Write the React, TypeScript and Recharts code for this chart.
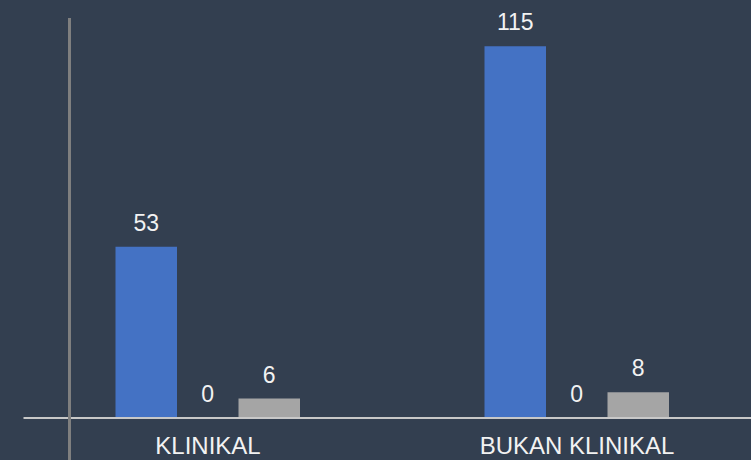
import React from 'react';
import { BarChart, Bar, XAxis, YAxis, LabelList } from 'recharts';

const categories = ['KLINIKAL', 'BUKAN KLINIKAL'];
const series1 = [53, 115];
const series2 = [0, 0];
const series3 = [6, 8];

const data = categories.map((name, i) => ({
  name,
  s1: series1[i],
  s2: series2[i],
  s3: series3[i],
}));

const labelStyle = { fill: '#F2F2F2', fontSize: 23, fontFamily: '"Liberation Sans", Arial, sans-serif' };
const asText = (v: any) => String(v);

const App: React.FC = () => {
  return (
    <div
      style={{
        position: 'fixed',
        left: 0,
        top: 0,
        width: 751,
        height: 460,
        overflow: 'hidden',
        background: '#333F50',
      }}
    >
      <BarChart
        width={762}
        height={460}
        data={data}
        margin={{ top: 14, right: 0.5, left: 23.5, bottom: 0 }}
        barGap={0}
        barSize={61.5}
      >
        <YAxis hide domain={[0, 125]} />
        <XAxis
          dataKey="name"
          height={42}
          axisLine={{ stroke: '#C8C8C8', strokeWidth: 2 }}
          tickLine={false}
          tickSize={0}
          tickMargin={19}
          tick={{ fill: '#F2F2F2', fontSize: 24, fontFamily: '"Liberation Sans", Arial, sans-serif' }}
        />
        <Bar dataKey="s1" fill="#4472C4" isAnimationActive={false}>
          <LabelList dataKey="s1" position="top" offset={16} style={labelStyle} formatter={asText} />
        </Bar>
        <Bar dataKey="s2" fill="#ED7D31" minPointSize={0.01} isAnimationActive={false}>
          <LabelList dataKey="s2" position="top" offset={16} style={labelStyle} formatter={asText} />
        </Bar>
        <Bar dataKey="s3" fill="#A5A5A5" isAnimationActive={false}>
          <LabelList dataKey="s3" position="top" offset={16} style={labelStyle} formatter={asText} />
        </Bar>
      </BarChart>
      {/* stray vertical axis line from the source slide */}
      <div
        style={{
          position: 'absolute',
          left: 68,
          top: 18,
          width: 3,
          height: 442,
          background: '#7F7F7F',
        }}
      />
    </div>
  );
};

export default App;
